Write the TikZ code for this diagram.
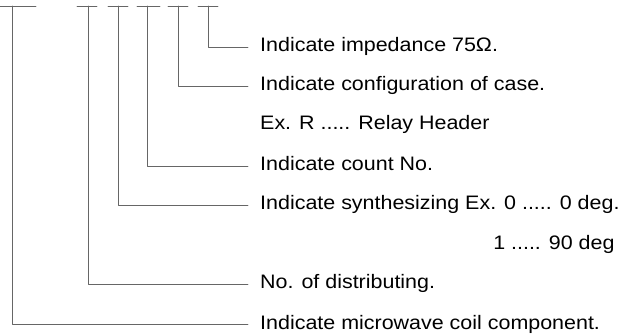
\documentclass[tikz,border=0pt]{standalone}
\usepackage{fontspec}
\setmainfont{Liberation Sans}[FakeStretch=1.1]
\begin{document}
\begin{tikzpicture}[x=1pt, y=-1pt, line join=round, line cap=round,
	lead/.style={draw=black!60, line width=0.6pt},
	txt/.style={anchor=base west, inner sep=0pt, text height=14pt, text depth=4pt,
		font=\fontsize{19.5}{22}\selectfont}]
	\def\xt{260} % left edge of the texts
	\useasboundingbox (0,0) rectangle (623,336);
	% code blanks at the top
	\draw[lead] (0,6)--(36,6) (77,6)--(97,6) (108,6)--(128,6)
		(137,6)--(160,6) (168,6)--(188,6) (198,6)--(218,6);
	\coordinate (mw) at (12,6);
	\coordinate (dist) at (88,6);
	\coordinate (syn) at (118,6);
	\coordinate (cnt) at (147,6);
	\coordinate (cfg) at (178,6);
	\coordinate (imp) at (208,6);
	% labels
	\node[txt] (limp) at (\xt,52) {Indicate impedance 75Ω.};
	\node[txt] (lcfg) at (\xt,91) {Indicate configuration of case.};
	\node[txt] (lex) at (\xt,130) {Ex. R ..... Relay Header};
	\node[txt] (lcnt) at (\xt,171) {Indicate count No.};
	\node[txt] (lsyn) at (\xt,210) {Indicate synthesizing Ex. 0 ..... 0 deg.};
	\node[txt, anchor=base east] (ldeg) at ([xshift=-5pt]lsyn.base east |- 0,250) {1 ..... 90 deg};
	\node[txt] (ldist) at (\xt,289) {No. of distributing.};
	\node[txt] (lmw) at (\xt,329) {Indicate microwave coil component.};
	% leaders
	\foreach \c/\l in {imp/limp, cfg/lcfg, cnt/lcnt, syn/lsyn, dist/ldist, mw/lmw}
		\draw[lead] (\c) |- ([xshift=-12pt]\l.west);
\end{tikzpicture}
\end{document}
